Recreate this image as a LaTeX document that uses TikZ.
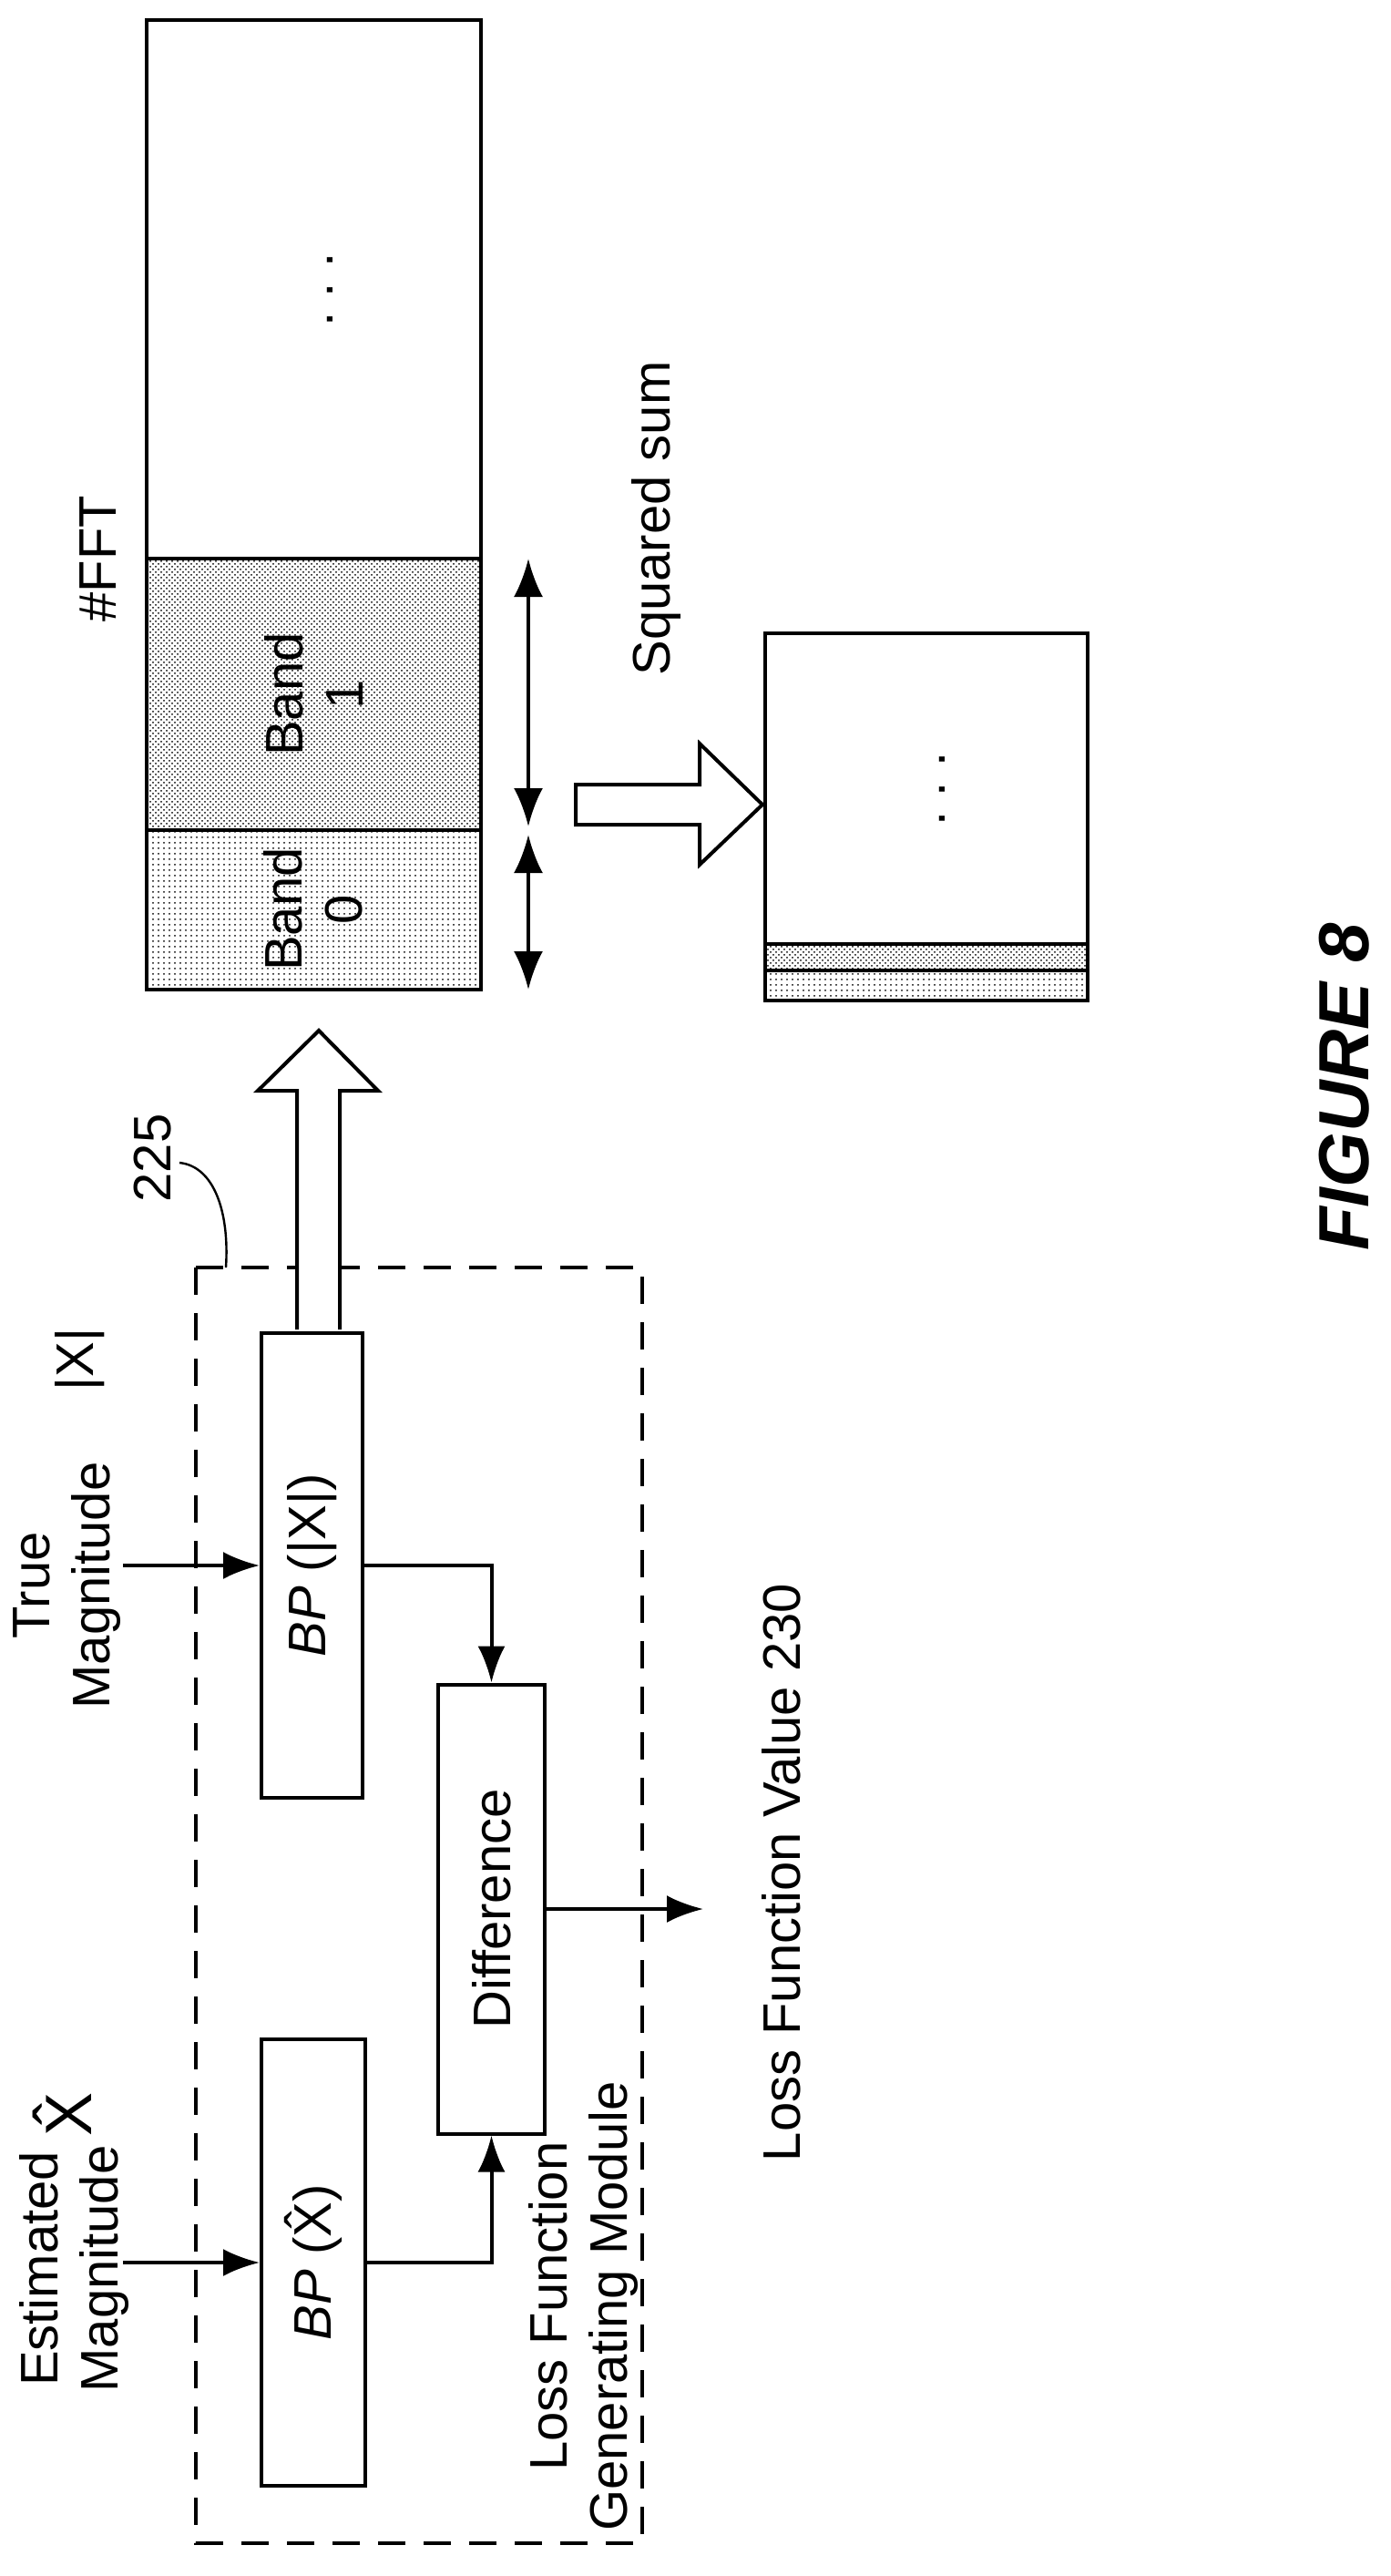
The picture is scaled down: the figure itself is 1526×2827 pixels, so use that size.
\documentclass[tikz,border=0pt]{standalone}
\usepackage{fontspec}
\setmainfont{Liberation Sans}
\usetikzlibrary{arrows.meta,patterns}
\begin{document}
\begin{tikzpicture}[x=0.5pt,y=-0.5pt,
  box/.style={draw,line width=2pt,inner sep=0pt},
  txt/.style={rotate=90,font=\fontsize{29}{33}\selectfont,align=center,inner sep=0pt},
  arr/.style={line width=2pt,-{Latex[length=20pt,width=15pt]}},
  darr/.style={line width=2pt,{Latex[length=21pt,width=16pt]}-{Latex[length=21pt,width=16pt]}},
  hollow/.style={draw,line width=2pt,fill=white,line join=miter}]
\useasboundingbox (0,0) rectangle (1526,2827);
% FFT column
\node[box,minimum width=183.5pt,minimum height=295.5pt] (top) at (344.5,317.5) {};
\node[box,pattern=crosshatch dots,minimum width=183.5pt,minimum height=149pt] (b1) at (344.5,762) {};
\node[box,pattern=dots,minimum width=183.5pt,minimum height=87.5pt] (b0) at (344.5,998.5) {};
\node[txt] (b1t) at (344,762) {Band\\1};
\node[txt] (b0t) at (344,998) {Band\\0};
\node[txt] (dots1) at (362,318) {.\ .\ .};
\node[txt] (fft) at (108,613) {\#FFT};
\coordinate (d1a) at (580,613); \coordinate (d1b) at (580,907);
\coordinate (d0a) at (580,916); \coordinate (d0b) at (580,1086);
\draw[darr] (d1a) -- (d1b);
\draw[darr] (d0a) -- (d0b);
\node[txt] (sq) at (720,569) {Squared sum};
\draw[hollow] (632,861) -- (768,861) -- (768,816) -- (837,883) -- (768,949) -- (768,905) -- (632,905) -- cycle;
% output column
\node[box,minimum width=177pt,minimum height=170.5pt] (otop) at (1017,865.5) {};
\node[box,pattern=crosshatch dots,minimum width=177pt,minimum height=14.5pt] (o1) at (1017,1050.5) {};
\node[box,pattern=dots,minimum width=177pt,minimum height=16.5pt] (o0) at (1017,1081.5) {};
\node[txt] (dots2) at (1034,866) {.\ .\ .};
% module
\draw[line width=1.6pt,dash pattern=on 15pt off 10pt] (215,1391) rectangle (705,2791);
\node[box,minimum width=55.5pt,minimum height=255pt] (bp1) at (342.5,1718) {};
\node[box,minimum width=57pt,minimum height=245pt] (bp2) at (344,2483) {};
\node[box,minimum width=58.5pt,minimum height=246.5pt] (diff) at (539.5,2095) {};
\node[txt] (bp1t) at (bp1.center) {\textit{BP} (|X|)};
\node[txt] (bp2t) at (bp2.center) {\textit{BP} (\^{X})};
\node[txt] (difft) at (diff.center) {Difference};
\draw[hollow] (326,1459) -- (326,1197) -- (283,1197) -- (350,1131) -- (415,1197) -- (373,1197) -- (373,1459);
\node[txt] (tm) at (74,1740) {True\\Magnitude};
\node[txt] (absx) at (88,1492) {|X|};
\node[txt] (em) at (82,2490) {Estimated\\Magnitude};
\node[txt,font=\fontsize{36}{40}\selectfont] (xhat) at (68,2320) {\^{X}};
\coordinate (in1) at (135,1718);
\coordinate (in2) at (135,2483);
\draw[arr] (in1) -- (bp1.west);
\draw[arr] (in2) -- (bp2.west);
\draw[arr] (bp1.east) -| (diff.north);
\draw[arr] (bp2.east) -| (diff.south);
\coordinate (out) at (772,2095);
\draw[arr] (diff.east) -- (out);
\node[txt] (lfv) at (858,2055) {Loss Function Value 230};
\node[txt] (lfgm) at (640,2531) {Loss Function\\Generating Module};
\node[txt] (n225) at (168,1271) {225};
\coordinate (c1) at (197,1276);
\coordinate (c2) at (248,1391);
\draw[line width=1.2pt] (c1) .. controls (235,1280) and (252,1330) .. (c2);
\node[txt,font=\fontsize{39}{44}\selectfont\bfseries\itshape] (fig) at (1476,1193) {FIGURE 8};
\end{tikzpicture}
\end{document}
